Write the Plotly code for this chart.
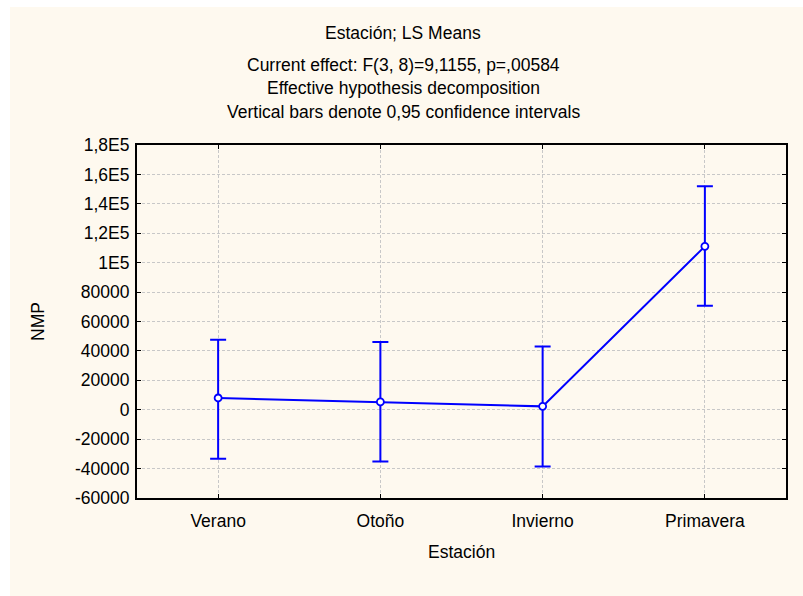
import plotly.graph_objects as go

categories = ["Verano", "Otoño", "Invierno", "Primavera"]
means = [8000, 5300, 2300, 111100]
upper = [47600, 46000, 43000, 151900]
lower = [-33300, -35200, -38600, 70700]

ytick_vals = [-60000, -40000, -20000, 0, 20000, 40000, 60000, 80000, 100000, 120000, 140000, 160000, 180000]
ytick_text = ["-60000", "-40000", "-20000", "0", "20000", "40000", "60000", "80000", "1E5", "1,2E5", "1,4E5", "1,6E5", "1,8E5"]

title_lines = ["Estación; LS Means",
               "Current effect: F(3, 8)=9,1155, p=,00584",
               "Effective hypothesis decomposition",
               "Vertical bars denote 0,95 confidence intervals"]

W, H = 803, 596
L, R, T, B = 137, 17, 145, 98
PW, PH = W - L - R, H - T - B

def px_x(x):
    return (x - L) / PW

def px_y(y):
    return (H - B - y) / PH

FONT = "Liberation Sans, Arial, sans-serif"
BLUE = "#0000FF"
FS = 17.5

err_plus = [u - m for u, m in zip(upper, means)]
err_minus = [m - l for m, l in zip(means, lower)]

fig = go.Figure()
fig.add_trace(go.Scatter(
    x=list(range(len(categories))), y=means, mode="lines+markers",
    line=dict(color=BLUE, width=2),
    marker=dict(symbol="circle", size=7, color="white", line=dict(color=BLUE, width=1.8)),
    error_y=dict(type="data", array=err_plus, arrayminus=err_minus, symmetric=False,
                 color=BLUE, thickness=2, width=8),
    showlegend=False, cliponaxis=False,
))

annotations = []
ys = [33, 65, 88, 112]
sizes = [FS, FS, FS, FS]
for txt, yy, fs in zip(title_lines, ys, sizes):
    annotations.append(dict(text=txt, xref="paper", yref="paper", x=px_x(403), y=px_y(yy),
                            xanchor="center", yanchor="middle", showarrow=False,
                            font=dict(family=FONT, size=fs, color="black")))
annotations.append(dict(text="NMP", xref="paper", yref="paper", x=px_x(38), y=px_y(322),
                        xanchor="center", yanchor="middle", textangle=-90, showarrow=False,
                        font=dict(family=FONT, size=FS, color="black")))
annotations.append(dict(text="Estación", xref="paper", yref="paper", x=px_x(461), y=px_y(552),
                        xanchor="center", yanchor="middle", showarrow=False,
                        font=dict(family=FONT, size=FS, color="black")))

grid = dict(showgrid=True, gridcolor="#C8C8C8", griddash="3px,2px", gridwidth=1)

fig.update_layout(
    width=W, height=H,
    margin=dict(l=L, r=R, t=T, b=B, autoexpand=False),
    paper_bgcolor="white", plot_bgcolor="white",
    font=dict(family=FONT, size=FS, color="black"),
    annotations=annotations,
    shapes=[dict(type="rect", xref="paper", yref="paper", layer="below",
                 x0=px_x(10), x1=px_x(W + 5), y0=px_y(H + 5), y1=px_y(7),
                 fillcolor="#FEF9EF", line=dict(width=0))],
    xaxis=dict(range=[-0.5, 3.5], tickvals=list(range(len(categories))), ticktext=categories,
               showline=True, linecolor="black", linewidth=2, mirror="ticks",
               ticks="inside", ticklen=4, tickcolor="black",
               zeroline=False, tickfont=dict(size=FS), ticklabelstandoff=6, **grid),
    yaxis=dict(range=[-60000, 180000], tickvals=ytick_vals, ticktext=ytick_text,
               showline=True, linecolor="black", linewidth=2, mirror="ticks",
               ticks="inside", ticklen=4, tickcolor="black",
               zeroline=False, tickfont=dict(size=FS), ticklabelstandoff=2, **grid),
)

fig.write_html("out.html")
